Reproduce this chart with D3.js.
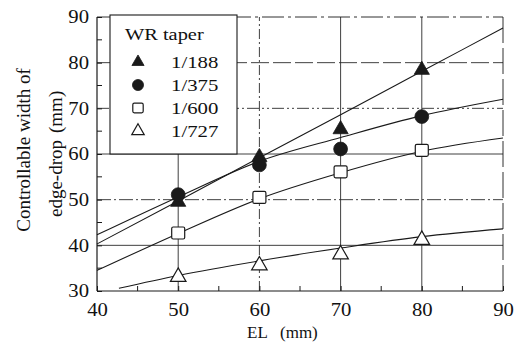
<!DOCTYPE html>
<html>
<head>
<meta charset="utf-8">
<script src="https://cdn.jsdelivr.net/npm/d3@7"></script>
<style>
  html, body { margin: 0; padding: 0; background: #fff; }
  svg { display: block; }
  text { font-family: "Liberation Serif", "Times New Roman", Times, serif; fill: #111; }
</style>
</head>
<body>
<svg id="chart" width="524" height="344"></svg>
<script>
// Measured edge-drop control width against EL for four WR tapers
const xTicks = [40, 50, 60, 70, 80, 90];
const yTicks = [30, 40, 50, 60, 70, 80, 90];
const xMinor = [45, 55, 65, 75, 85];
const yMinor = [35, 45, 55, 65, 75, 85];
const elValues = [50, 60, 70, 80];
const seriesNames = ["1/188", "1/375", "1/600", "1/727"];
const taper188 = [49.5, 59.3, 65.4, 78.4];
const taper375 = [51.1, 57.6, 61.1, 68.2];
const taper600 = [42.7, 50.5, 56.1, 60.8];
const taper727 = [33.1, 35.6, 38.0, 41.2];

// Fitted curves for each taper
const fitX = [40, 50, 60, 70, 80, 90];
const fit727X = [42.7, 50, 60, 70, 80, 90];
const fit188 = [40.3, 49.7, 59.2, 68.6, 78.1, 87.6];
const fit375 = [42.3, 50.6, 58.4, 63.6, 68.4, 72.0];
const fit600 = [34.5, 42.6, 50.2, 55.9, 60.6, 63.5];
const fit727 = [30.6, 33.4, 36.6, 39.4, 41.9, 43.6];

const FONT = "'Liberation Serif', 'Times New Roman', Times, serif";
const svg = d3.select("#chart").attr("font-family", FONT);
const x = d3.scaleLinear().domain([40, 90]).range([97, 503]);
const y = d3.scaleLinear().domain([30, 90]).range([291, 17]);

const ink = "#1a1a1a";

// Grid lines
const hStyle = {40: null, 50: "14,3,2,3", 60: null, 70: "12,3,2,3,2,3", 80: "18,4"};
const vStyle = {50: null, 60: "10,3,2,3", 70: null, 80: null};
const grid = svg.append("g");
[40, 50, 60, 70, 80].forEach(v => {
  grid.append("line")
    .attr("x1", x(40)).attr("x2", x(90))
    .attr("y1", y(v)).attr("y2", y(v))
    .attr("stroke", "#2a2a2a").attr("stroke-width", 0.9)
    .attr("stroke-dasharray", hStyle[v]);
});
[50, 60, 70, 80].forEach(v => {
  grid.append("line")
    .attr("x1", x(v)).attr("x2", x(v))
    .attr("y1", y(30)).attr("y2", y(90))
    .attr("stroke", "#2a2a2a").attr("stroke-width", 0.9)
    .attr("stroke-dasharray", vStyle[v]);
});

// Frame: left and bottom solid, top and right broken
const frame = svg.append("g").attr("fill", "none").attr("stroke", ink);
frame.append("line").attr("x1", x(40)).attr("x2", x(40)).attr("y1", y(30)).attr("y2", y(90)).attr("stroke-width", 1.2);
frame.append("line").attr("x1", x(40)).attr("x2", x(90)).attr("y1", y(30)).attr("y2", y(30)).attr("stroke-width", 1.2);
frame.append("line").attr("x1", x(40)).attr("x2", x(90)).attr("y1", y(90)).attr("y2", y(90)).attr("stroke-width", 0.9).attr("stroke-dasharray", "22,4,3,4");
frame.append("line").attr("x1", x(90)).attr("x2", x(90)).attr("y1", y(30)).attr("y2", y(90)).attr("stroke-width", 0.9).attr("stroke-dasharray", "26,5");

// Axes with outward labels and inward ticks
const yAxis = d3.axisLeft(y).tickValues(yTicks).tickSize(-5).tickPadding(9).tickFormat(d3.format("d"));
const xAxis = d3.axisBottom(x).tickValues(xTicks).tickSize(-5).tickPadding(12).tickFormat(d3.format("d"));
const gy = svg.append("g").attr("transform", `translate(${x(40)},0)`).call(yAxis);
const gx = svg.append("g").attr("transform", `translate(0,${y(30)})`).call(xAxis);
[gx, gy].forEach(g => {
  g.attr("font-family", FONT);
  g.select(".domain").remove();
  g.selectAll(".tick line").attr("stroke", ink).attr("stroke-width", 1);
  g.selectAll("text").attr("font-size", 18).attr("fill", "#111").attr("font-family", FONT);
});
gy.selectAll(".tick text").attr("transform", "scale(1.15,1)").attr("x", -8 / 1.15);
gx.selectAll(".tick text").attr("transform", "scale(1.15,1)");

// Minor ticks
const minor = svg.append("g").attr("stroke", ink).attr("stroke-width", 1);
xMinor.forEach(v => minor.append("line").attr("x1", x(v)).attr("x2", x(v)).attr("y1", y(30)).attr("y2", y(30) - 5));
yMinor.forEach(v => minor.append("line").attr("x1", x(40)).attr("x2", x(40) + 5).attr("y1", y(v)).attr("y2", y(v)));

// Fitted curves
const line = d3.line().x(d => x(d[0])).y(d => y(d[1])).curve(d3.curveMonotoneX);
const fits = [
  d3.zip(fitX, fit188),
  d3.zip(fitX, fit375),
  d3.zip(fitX, fit600),
  d3.zip(fit727X, fit727)
];
svg.append("g").selectAll("path").data(fits).join("path")
  .attr("d", line).attr("fill", "none").attr("stroke", ink).attr("stroke-width", 1.1);

// Marker shapes
const shapes = [
  {type: d3.symbolTriangle, fill: ink, size: 100},
  {type: d3.symbolCircle, fill: ink, size: 150},
  {type: "square", fill: "#fff", size: 13},
  {type: d3.symbolTriangle, fill: "#fff", size: 105}
];
function drawMarker(g, k, cx, cy, scale) {
  const s = shapes[k];
  if (s.type === "square") {
    const w = s.size * scale, h = (s.size - 1) * scale;
    g.append("rect").attr("x", cx - w / 2).attr("y", cy - h / 2)
      .attr("width", w).attr("height", h).attr("rx", 1.5)
      .attr("fill", "#fff").attr("stroke", ink).attr("stroke-width", 1.2);
  } else {
    g.append("path")
      .attr("d", d3.symbol().type(s.type).size(s.size * scale * scale)())
      .attr("transform", `translate(${cx},${cy})`)
      .attr("fill", s.fill).attr("stroke", ink).attr("stroke-width", s.fill === "#fff" ? 1.2 : 0.8);
  }
}

const seriesValues = [taper188, taper375, taper600, taper727];
const marks = svg.append("g");
seriesValues.forEach((vals, k) => {
  vals.forEach((v, i) => drawMarker(marks, k, x(elValues[i]), y(v), 1));
});

// Legend
const lg = svg.append("g");
lg.append("rect").attr("x", 110).attr("y", 15).attr("width", 127).attr("height", y(60) - 15)
  .attr("fill", "#fff").attr("stroke", ink).attr("stroke-width", 1.1);
lg.append("text").attr("transform", "translate(125,40) scale(1.2,1)")
  .attr("font-size", 17).text("WR taper");
const rowY = [62, 85, 108, 131];
seriesNames.forEach((name, k) => {
  drawMarker(lg, k, 138, rowY[k], 0.8);
  lg.append("text").attr("transform", `translate(171,${rowY[k] + 5.5}) scale(1.3,1)`)
    .attr("font-size", 16).text(name);
});

// Axis titles
const xt = svg.append("text").attr("y", 338).attr("font-size", 17);
xt.append("tspan").attr("x", 247).text("EL");
xt.append("tspan").attr("x", 280).text("(mm)");

const yt = svg.append("text").attr("transform", "rotate(-90)").attr("font-size", 19);
yt.append("tspan").attr("x", -150).attr("y", 30).attr("text-anchor", "middle").text("Controllable width of");
yt.append("tspan").attr("x", -217).attr("y", 62).text("edge-drop");
yt.append("tspan").attr("x", -133).attr("y", 62).text("(mm)");
</script>
</body>
</html>
